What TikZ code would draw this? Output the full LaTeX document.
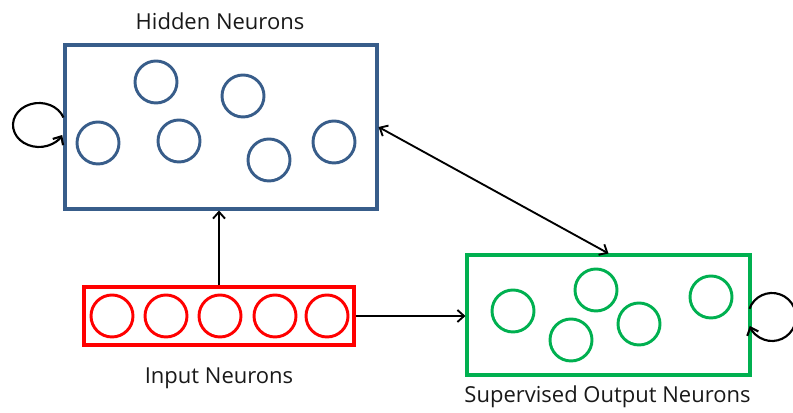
\documentclass[tikz,border=0pt]{standalone}
\usepackage{fontspec}
\setmainfont{Open Sans}
\usetikzlibrary{arrows.meta}
\definecolor{hblue}{RGB}{56,93,138}
\definecolor{ired}{RGB}{255,0,0}
\definecolor{ogreen}{RGB}{0,176,80}
\begin{document}
\begin{tikzpicture}[x=0.75pt,y=0.75pt,
  grp/.style={draw,line width=2.3pt,inner sep=0pt},
  neu/.style={circle,draw,line width=2.2pt,minimum size=31.5pt,inner sep=0pt},
  lbl/.style={anchor=base,font=\fontsize{16.5pt}{19pt}\selectfont,text=black!90},
  conn/.style={draw=black,line width=1.4pt,-{Straight Barb[length=5pt,width=9pt]}},
  dconn/.style={draw=black,line width=1.4pt,{Straight Barb[length=5pt,width=9pt]}-{Straight Barb[length=5pt,width=9pt]}},
  loopline/.style={draw=black,line width=1.6pt,-{Straight Barb[length=5pt,width=9pt]}}]
\useasboundingbox (0,0) rectangle (793,413);
% groups
\node[grp,draw=hblue,minimum width=234pt,minimum height=123pt] (hidden) at (221,286) {};
\node[grp,draw=ired,minimum width=202.5pt,minimum height=43.5pt] (input) at (219,97) {};
\node[grp,draw=ogreen,minimum width=212.25pt,minimum height=90pt] (output) at (608.5,98) {};
% hidden neurons
\foreach \n/\p in {h1/{156,331},h2/{243,317},h3/{98,270},h4/{179,272},h5/{269,253},h6/{334,271}}
  \node[neu,draw=hblue] (\n) at (\p) {};
% input neurons
\foreach \n/\xx in {i1/112,i2/166,i3/220,i4/275,i5/327}
  \node[neu,draw=ired] (\n) at (\xx,97) {};
% output neurons
\foreach \n/\p in {o1/{513,102},o2/{596,123},o3/{639,89},o4/{571,73},o5/{711,116}}
  \node[neu,draw=ogreen] (\n) at (\p) {};
% labels
\node[lbl] (lh) at (220,383) {Hidden Neurons};
\node[lbl] (li) at (219,29) {Input Neurons};
\node[lbl] (lo) at (607.5,10) {Supervised Output Neurons};
% connectors
\draw[conn] (input.north) -- (input.north |- hidden.south);
\draw[conn] (input.east) -- (input.east -| output.west);
\draw[dconn] (hidden.east) -- (output.north);
% self loops
\coordinate (hl) at (39,288);
\coordinate (ol) at (772,96);
\draw[loopline] (hl) ++(20:26 and 22) arc[start angle=20,end angle=333,x radius=26,y radius=22];
\draw[loopline] (ol) ++(160:24) arc[start angle=160,end angle=-158,radius=24];
\end{tikzpicture}
\end{document}
